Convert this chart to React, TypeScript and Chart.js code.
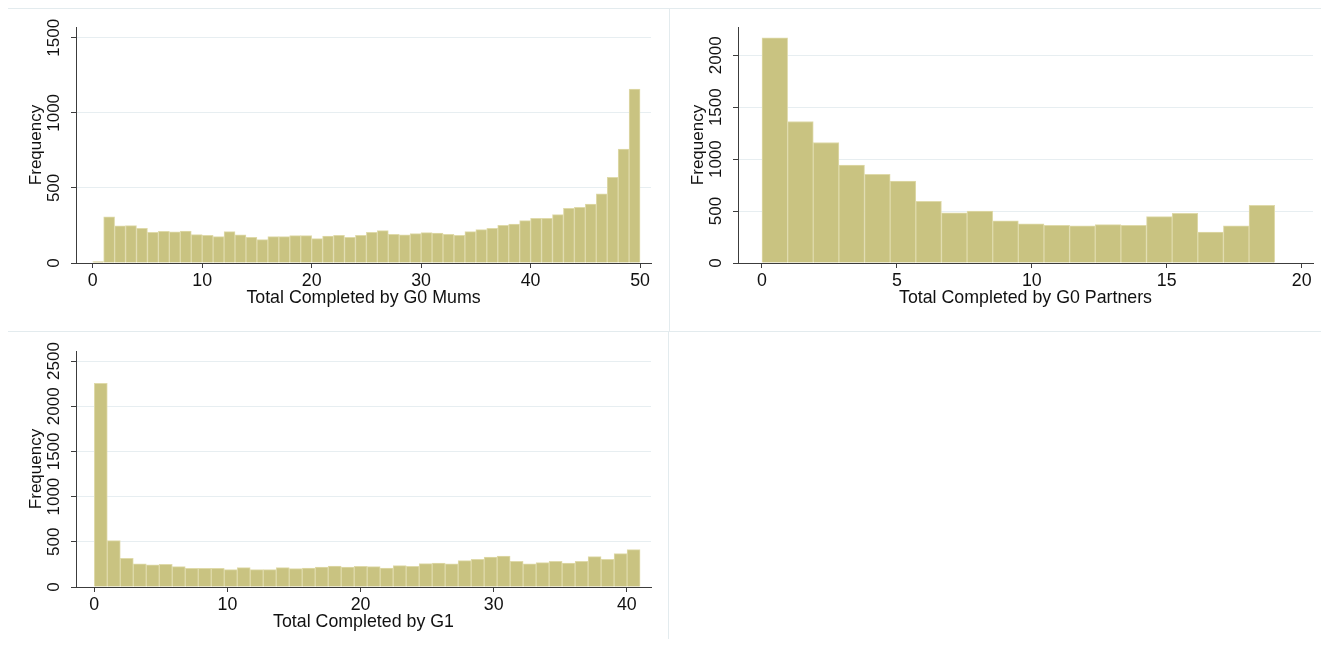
import React, { useEffect, useRef } from "react";
import { Chart, registerables } from "chart.js";

Chart.register(...registerables);

// ---------------- data ----------------
const yTitle = "Frequency";
const yTickStep = 500;

const mumsTitle = "Total Completed by G0 Mums";
const mumsBinStart = 0;
const mumsBinWidth = 1;
const mumsXTickStep = 10;
const mumsFreq = [
  10, 307, 247, 249, 231, 204, 211, 207, 213, 189,
  184, 176, 209, 187, 171, 156, 176, 176, 182, 182,
  162, 180, 184, 171, 184, 204, 216, 191, 187, 196,
  202, 200, 191, 184, 209, 222, 231, 251, 260, 282,
  298, 298, 322, 364, 371, 393, 460, 571, 758, 1158,
];

const partnersTitle = "Total Completed by G0 Partners";
const partnersBinStart = 0;
const partnersBinWidth = 0.95;
const partnersXTickStep = 5;
const partnersFreq = [
  2167, 1362, 1160, 942, 853, 788, 593, 484, 500, 407,
  378, 362, 359, 369, 362, 446, 478, 298, 359, 554,
];

const g1Title = "Total Completed by G1";
const g1BinStart = 0;
const g1BinWidth = 41 / 42;
const g1XTickStep = 10;
const g1Freq = [
  2254, 513, 317, 255, 244, 251, 225, 207, 207, 207,
  192, 214, 192, 192, 214, 203, 210, 221, 232, 221,
  228, 225, 210, 236, 229, 258, 266, 255, 292, 306,
  332, 343, 284, 255, 269, 284, 266, 284, 336, 306,
  369, 413,
];

// ---------------- styles ----------------
const FONT_FAMILY = '"Liberation Sans", Arial, Helvetica, sans-serif';
const X_FONT_SIZE = 17.8;
const Y_FONT_SIZE = 17;
const LINE_H = 1.2;
const TEXT_COLOR = "#111111";
const AXIS_COLOR = "#3c3c3c";
const GRID_COLOR = "#e7eef1";
const FRAME_COLOR = "#e3ebee";
const BAR_FILL = "rgb(201,195,129)";
const BAR_EDGE = "rgb(223,218,170)";

const rotatedYLabels = {
  id: "rotatedYLabels",
  afterDraw(chart: any) {
    const s = chart.scales.y;
    const ctx = chart.ctx;
    ctx.save();
    ctx.font = `${Y_FONT_SIZE}px ${FONT_FAMILY}`;
    ctx.fillStyle = TEXT_COLOR;
    ctx.textAlign = "center";
    ctx.textBaseline = "middle";
    for (const t of s.ticks) {
      const y = s.getPixelForValue(t.value);
      ctx.save();
      ctx.translate(s.right - 22, y);
      ctx.rotate(-Math.PI / 2);
      ctx.fillText(String(t.value), 0, 0);
      ctx.restore();
    }
    ctx.restore();
  },
};

type PanelProps = {
  freq: number[];
  binStart: number;
  binWidth: number;
  xTitle: string;
  xStep: number;
  xMin: number;
  xMax: number;
  yMax: number;
  width: number;
  height: number;
  area: { left: number; top: number; right: number; bottom: number };
};

function Histogram(p: PanelProps) {
  const ref = useRef<HTMLCanvasElement | null>(null);
  useEffect(() => {
    if (!ref.current) return;
    const points = p.freq.map((v, i) => ({
      x: p.binStart + (i + 0.5) * p.binWidth,
      y: v,
    }));
    const xlh = X_FONT_SIZE * LINE_H;
    const ylh = Y_FONT_SIZE * LINE_H;
    const xHeight = p.height - p.area.bottom;
    const titlePadBottom = p.height - xlh / 2 - (p.area.bottom + 35.5);
    const chart = new Chart(ref.current, {
      type: "bar",
      data: {
        datasets: [
          {
            data: points as any,
            backgroundColor: BAR_FILL,
            borderColor: BAR_EDGE,
            borderWidth: 1,
            barPercentage: 1,
            categoryPercentage: 1,
          },
        ],
      },
      options: {
        animation: false,
        responsive: false,
        events: [],
        layout: {
          padding: {
            left: 0,
            top: p.area.top,
            right: p.width - p.area.right,
            bottom: 0,
          },
        },
        plugins: {
          legend: { display: false },
          tooltip: { enabled: false },
          title: { display: false },
        },
        scales: {
          x: {
            type: "linear",
            min: p.xMin,
            max: p.xMax,
            offset: false,
            grid: {
              offset: false,
              drawOnChartArea: false,
              drawTicks: true,
              tickLength: 5,
              tickColor: AXIS_COLOR,
              color: AXIS_COLOR,
            },
            border: { display: true, color: AXIS_COLOR, width: 1 },
            ticks: {
              stepSize: p.xStep,
              includeBounds: false,
              autoSkip: false,
              maxRotation: 0,
              padding: 2,
              color: TEXT_COLOR,
              font: { family: FONT_FAMILY, size: X_FONT_SIZE, lineHeight: LINE_H },
            },
            title: {
              display: true,
              text: p.xTitle,
              color: TEXT_COLOR,
              font: { family: FONT_FAMILY, size: X_FONT_SIZE, lineHeight: LINE_H },
              padding: { top: 0, bottom: titlePadBottom },
            },
            afterFit: (s: any) => {
              s.height = xHeight;
            },
          },
          y: {
            type: "linear",
            min: 0,
            max: p.yMax,
            grid: {
              drawTicks: true,
              tickLength: 5,
              tickColor: AXIS_COLOR,
              color: (c: any) =>
                c.tick && c.tick.value === 0 ? "rgba(0,0,0,0)" : GRID_COLOR,
              lineWidth: 1,
            },
            border: { display: true, color: AXIS_COLOR, width: 1 },
            ticks: {
              display: false,
              stepSize: yTickStep,
              includeBounds: false,
            },
            afterBuildTicks: (s: any) => {
              const ticks = [];
              for (let v = 0; v <= p.yMax; v += yTickStep) ticks.push({ value: v });
              s.ticks = ticks;
            },
            title: {
              display: true,
              text: yTitle,
              color: TEXT_COLOR,
              font: { family: FONT_FAMILY, size: Y_FONT_SIZE, lineHeight: LINE_H },
              padding: { top: 28 - ylh / 2, bottom: 0 },
            },
            afterFit: (s: any) => {
              s.width = p.area.left;
            },
          },
        },
      },
      plugins: [rotatedYLabels],
    });
    return () => chart.destroy();
  }, []);
  return (
    <canvas
      ref={ref}
      width={p.width}
      height={p.height}
      style={{ display: "block", width: p.width, height: p.height }}
    />
  );
}

function Frame(props: { style: React.CSSProperties; children: React.ReactNode }) {
  return (
    <div
      style={{
        position: "absolute",
        boxSizing: "border-box",
        border: `1px solid ${FRAME_COLOR}`,
        overflow: "hidden",
        background: "#ffffff",
        ...props.style,
      }}
    >
      {props.children}
    </div>
  );
}

export default function App() {
  return (
    <div
      style={{
        position: "relative",
        width: 1321,
        height: 631,
        overflow: "hidden",
        background: "#ffffff",
      }}
    >
      <Frame style={{ left: -1, top: 0, width: 663, height: 324 }}>
        <Histogram
          freq={mumsFreq}
          binStart={mumsBinStart}
          binWidth={mumsBinWidth}
          xTitle={mumsTitle}
          xStep={mumsXTickStep}
          xMin={-1.527}
          xMax={51.0}
          yMax={1572}
          width={661}
          height={322}
          area={{ left: 68, top: 18, right: 643, bottom: 254 }}
        />
      </Frame>
      <Frame style={{ left: 661, top: 0, width: 661, height: 324 }}>
        <Histogram
          freq={partnersFreq}
          binStart={partnersBinStart}
          binWidth={partnersBinWidth}
          xTitle={partnersTitle}
          xStep={partnersXTickStep}
          xMin={-0.889}
          xMax={20.42}
          yMax={2272}
          width={659}
          height={322}
          area={{ left: 68, top: 18, right: 643, bottom: 254 }}
        />
      </Frame>
      <Frame
        style={{ left: -1, top: 323, width: 662, height: 309, borderBottom: "none" }}
      >
        <Histogram
          freq={g1Freq}
          binStart={g1BinStart}
          binWidth={g1BinWidth}
          xTitle={g1Title}
          xStep={g1XTickStep}
          xMin={-1.374}
          xMax={41.82}
          yMax={2611}
          width={660}
          height={307}
          area={{ left: 68, top: 19, right: 643, bottom: 255 }}
        />
      </Frame>
    </div>
  );
}
